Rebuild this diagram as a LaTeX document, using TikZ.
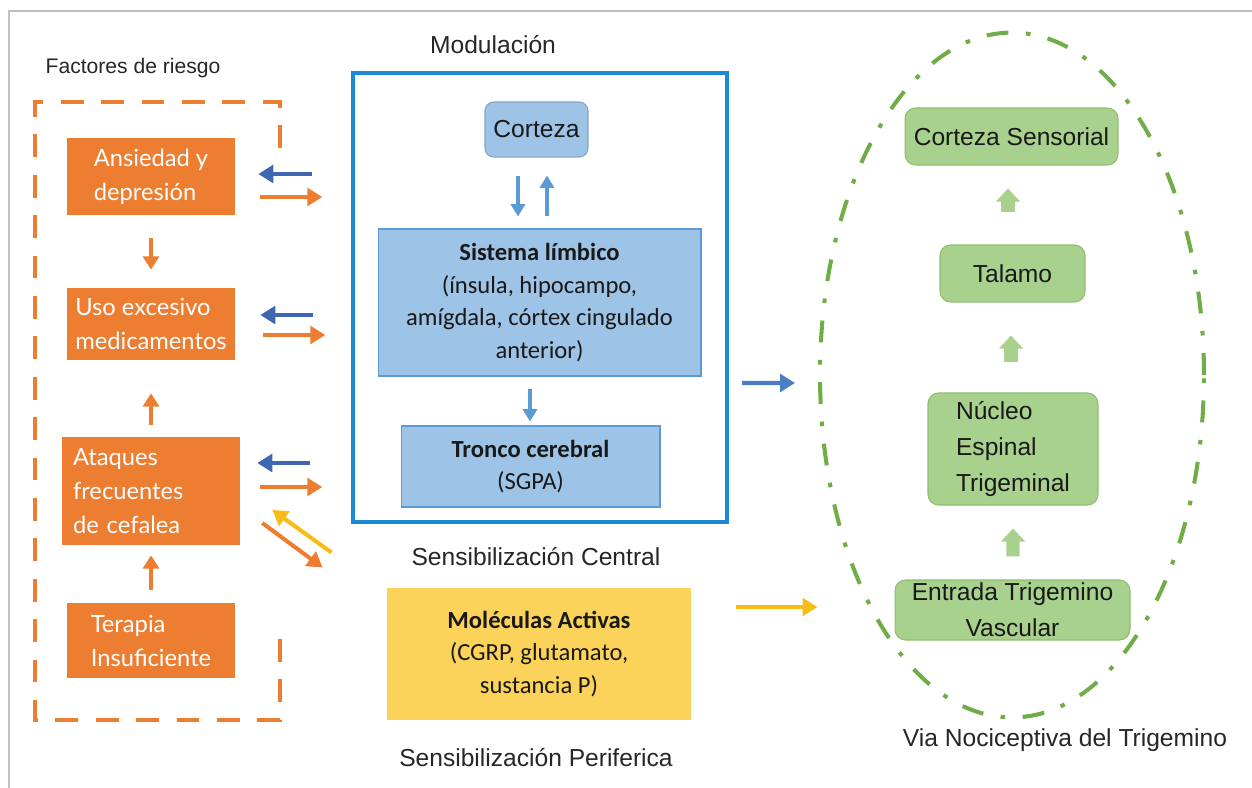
\documentclass[tikz,border=0pt]{standalone}
\usepackage{fontspec}
\setmainfont{Liberation Sans}
\newfontfamily\calfont{Carlito}
\newfontfamily\gillfont{Lato}
\usetikzlibrary{arrows.meta,shapes.geometric,calc}
\usepackage{xcolor}
\definecolor{riskorange}{HTML}{ED7D31}
\definecolor{modblue}{HTML}{1A8AD4}
\definecolor{arrowblue}{HTML}{3F67B1}
\definecolor{midblue}{HTML}{4A7EC2}
\definecolor{boxblue}{HTML}{9DC3E6}
\definecolor{lineblue}{HTML}{5B9BD5}
\definecolor{molyellow}{HTML}{FCD35A}
\definecolor{arrowyellow}{HTML}{F6BD16}
\definecolor{viagreen}{HTML}{70AD47}
\definecolor{boxgreen}{HTML}{A9D18E}
\definecolor{edgegreen}{HTML}{8DBF6D}
\definecolor{framegray}{HTML}{C0C0C0}

\begin{document}
\begin{tikzpicture}[x=0.02cm,y=-0.02cm,
	risk/.style={rectangle,fill=riskorange,text=white,align=left,inner sep=0pt,font=\gillfont\fontsize{13.5}{19.3}\selectfont},
	brain/.style={rectangle,fill=boxblue,draw=lineblue,line width=0.6pt,align=center,inner sep=0pt,text=black!90,font=\calfont\fontsize{14}{18.7}\selectfont},
	trig/.style={rectangle,rounded corners=6pt,fill=boxgreen,draw=edgegreen,line width=0.6pt,inner sep=0pt,text=black!90,font=\fontsize{14}{20.5}\selectfont},
	lbl/.style={text=black!85,font=\fontsize{14}{16}\selectfont},
	barrow/.style={draw=arrowblue,line width=2.3pt,-{Triangle[length=8.5pt,width=10pt]}},
	oarrow/.style={draw=riskorange,line width=2.3pt,-{Triangle[length=8.5pt,width=10pt]}},
	yarrow/.style={draw=arrowyellow,line width=2.3pt,-{Triangle[length=8.5pt,width=10pt]}},
	varrow/.style={draw=riskorange,line width=1.9pt,-{Triangle[length=7.5pt,width=9pt]}},
	carrow/.style={draw=lineblue,line width=2pt,-{Triangle[length=7pt,width=8pt]}},
	garrow/.style={draw=boxgreen,line width=7.5pt,-{Triangle[length=7.5pt,width=13.5pt]}}]
	\useasboundingbox (0,0) rectangle (1252,788);
	\draw[framegray,line width=1.1pt] (9,788) -- (9,11) -- (1252,11);

	\node[lbl,font=\fontsize{12}{14}\selectfont]	(fac)	at (133,68)		{Factores de riesgo};
	\draw[riskorange,line width=2.8pt,dash pattern=on 13pt off 10pt] (280,148) -- (280,102) -- (35,102) -- (35,720) -- (280,720) -- (280,625);
	\node[risk,minimum width=3.36cm,minimum height=1.54cm]	(ans)	at (151,176.5)	{Ansiedad y\\depresión};
	\node[risk,minimum width=3.36cm,minimum height=1.44cm]	(uso)	at (151,324)	{Uso excesivo\\medicamentos};
	\node[risk,inner xsep=0.22cm,text width=3.12cm,minimum height=2.16cm]	(ata)	at (151,491)	{Ataques\\frecuentes\\de cefalea};
	\node[risk,minimum width=3.36cm,minimum height=1.50cm]	(ter)	at (151,640.5)	{Terapia\\Insuficiente};

	\node[lbl]	(modl)	at (493,45)		{Modulación};
	\node[draw=modblue,line width=2.4pt,minimum width=7.48cm,minimum height=8.98cm,inner sep=0pt]	(mod)	at (540,297.5)	{};
	\node[brain,rounded corners=5pt,draw=boxblue!85!black,font=\fontsize{14}{16}\selectfont,minimum width=2.06cm,minimum height=1.10cm]	(cor)	at (536.5,129.5)	{Corteza};
	\node[brain,minimum width=6.46cm,minimum height=2.94cm]	(sis)	at (539.5,302.5)	{{\bfseries Sistema límbico}\\(ínsula, hipocampo,\\amígdala, córtex cingulado\\anterior)};
	\node[brain,minimum width=5.18cm,minimum height=1.62cm]	(tro)	at (530.5,466.5)	{{\bfseries Tronco cerebral}\\(SGPA)};
	\node[lbl]	(cen)	at (536,557)	{Sensibilización Central};
	\node[brain,fill=molyellow,draw=none,minimum width=6.08cm,minimum height=2.64cm]	(mol)	at (539,654)	{{\bfseries Moléculas Activas}\\(CGRP, glutamato,\\sustancia P)};
	\node[lbl]	(per)	at (536,758)	{Sensibilización Periferica};

	\node[ellipse,draw=viagreen,line width=2.3pt,dash pattern=on 12.5pt off 10pt on 2.6pt off 10pt,minimum width=7.68cm,minimum height=13.70cm,inner sep=0pt]	(via)	at (1012,375)	{};
	\node[trig,minimum width=4.26cm,minimum height=1.14cm]	(cs)	at (1011.5,136.5)	{Corteza Sensorial};
	\node[trig,minimum width=2.90cm,minimum height=1.14cm]	(tal)	at (1012.5,273.5)	{Talamo};
	\node[trig,align=left,minimum width=3.40cm,minimum height=2.24cm]	(nuc)	at (1013,449)	{Núcleo\\Espinal\\Trigeminal};
	\node[trig,align=center,minimum width=4.70cm,minimum height=1.20cm]	(ent)	at (1012.5,610)	{Entrada Trigemino\\Vascular};
	\node[lbl]	(vial)	at (1065,740)	{Via Nociceptiva del Trigemino};

	\draw[varrow] ($(ans.south)+(0,23)$) -- ($(uso.north)+(0,-18)$);
	\draw[varrow] ($(ata.north)+(0,-12)$) -- ($(uso.south)+(0,33)$);
	\draw[varrow] ($(ter.north)+(0,-13)$) -- ($(ata.south)+(0,10)$);

	\draw[barrow] ($(ans.east)+(77,-2.5)$) -- ($(ans.east)+(23,-2.5)$);
	\draw[oarrow] ($(ans.east)+(25,20.5)$) -- ($(ans.east)+(87,20.5)$);
	\draw[barrow] ($(uso.east)+(78,-9)$) -- ($(uso.east)+(25,-9)$);
	\draw[oarrow] ($(uso.east)+(28,11)$) -- ($(uso.east)+(90,11)$);
	\draw[barrow] ($(ata.east)+(70,-28)$) -- ($(ata.east)+(17,-28)$);
	\draw[oarrow] ($(ata.east)+(20,-4)$) -- ($(ata.east)+(82,-4)$);
	\draw[yarrow] ($(mol.north west)+(-55,-35)$) -- ($(ata.east)+(32,19)$);
	\draw[oarrow] ($(ata.east)+(22,32)$) -- ($(mol.north west)+(-64,-20)$);

	\draw[carrow] ($(cor.south)+(-18.5,18)$) -- ($(sis.north)+(-21.5,-12)$);
	\draw[carrow] ($(sis.north)+(7.5,-12)$) -- ($(cor.south)+(10.5,18)$);
	\draw[carrow] ($(sis.south)+(-9.5,12)$) -- ($(tro.north)+(-0.5,-4)$);

	\draw[barrow,draw=midblue] ($(mod.east)+(13,85.5)$) -- ($(via.west)+(-23,8)$);
	\draw[yarrow] ($(mol.east)+(44,-47)$) -- ($(ent.west)+(-77,-3)$);

	\draw[garrow] ($(tal.north)+(-4.5,-32)$) -- ($(cs.south)+(-3.5,23)$);
	\draw[garrow] ($(nuc.north)+(-2,-30)$) -- ($(tal.south)+(-1.5,33)$);
	\draw[garrow] ($(ent.north)+(0.5,-23)$) -- ($(nuc.south)+(0,23)$);
\end{tikzpicture}
\end{document}
